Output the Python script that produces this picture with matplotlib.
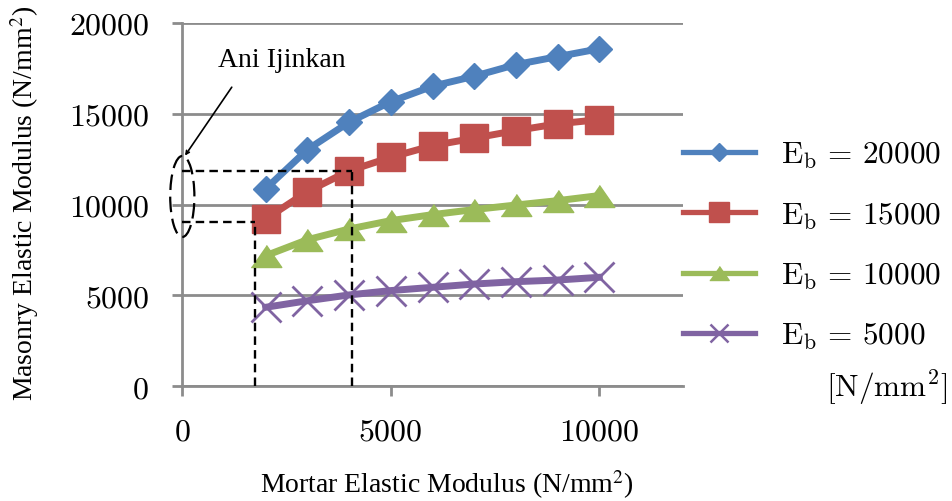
import matplotlib
matplotlib.use("Agg")
import matplotlib.pyplot as plt
from matplotlib.patches import Ellipse
from matplotlib.lines import Line2D
from matplotlib.font_manager import FontProperties

# ---- data ----
mortar_E = [2000, 3000, 4000, 5000, 6000, 7000, 8000, 9000, 10000]
eb_20000 = [10870, 13030, 14540, 15670, 16520, 17070, 17710, 18150, 18580]
eb_15000 = [9210, 10720, 11860, 12610, 13250, 13660, 14080, 14450, 14680]
eb_10000 = [7190, 8070, 8660, 9120, 9450, 9730, 9980, 10220, 10500]
eb_5000 = [4350, 4710, 5030, 5270, 5450, 5630, 5760, 5850, 6000]
series_labels = [r"$\mathrm{E}_\mathrm{b}\,=\,20000$", r"$\mathrm{E}_\mathrm{b}\,=\,15000$",
                 r"$\mathrm{E}_\mathrm{b}\,=\,10000$", r"$\mathrm{E}_\mathrm{b}\,=\,5000$"]
x_ticks = [0, 5000, 10000]
x_ticklabels = ["0", "5000", "10000"]
y_ticks = [0, 5000, 10000, 15000, 20000]
y_ticklabels = ["0", "5000", "10000", "15000", "20000"]
allow_x = [1745, 4066]          # mortar modulus range (dashed guides)
allow_y = [9065, 11840]         # masonry modulus range (dashed guides)

colors = ["#4F81BD", "#C0504D", "#9BBB59", "#8064A2"]
grid_gray = "#8C8C8C"

fig = plt.figure(figsize=(9.52, 5.02), dpi=100)
ax = fig.add_axes([182.3 / 952, 1 - 387.3 / 502, 500.4 / 952, 363.3 / 502])

tri = [(-1, -0.72), (1, -0.72), (0, 0.72)]
markers = ["D", "s", tri, "x"]
msizes = [13.5, 20, 22, 22]
lw = 5
series = [eb_20000, eb_15000, eb_10000, eb_5000]
for vals, c, m, ms in zip(series, colors, markers, msizes):
    ax.plot(mortar_E, vals, color=c, lw=lw, marker=m, ms=ms,
            mew=2 if m == "x" else 1, zorder=3)

ax.set_xlim(0, 12000)
ax.set_ylim(0, 20000)

# grid & spines
ax.yaxis.grid(True, color=grid_gray, lw=2)
ax.set_axisbelow(True)
for s in ["top", "right"]:
    ax.spines[s].set_visible(False)
for s in ["left", "bottom"]:
    ax.spines[s].set_color(grid_gray)
    ax.spines[s].set_linewidth(2)

tick_font = dict(family="cmr10", size=23)
ax.set_xticks(x_ticks)
ax.set_xticklabels(x_ticklabels, fontdict=tick_font)
ax.set_yticks(y_ticks)
ax.set_yticklabels(y_ticklabels, fontdict=tick_font)
ax.tick_params(axis="both", length=7, width=2, color=grid_gray, direction="out")
ax.tick_params(axis="y", pad=17)
ax.tick_params(axis="x", pad=16)

lab_kw = dict(family="Liberation Serif", size=20, math_fontfamily="stix")
ax.set_xlabel("Mortar Elastic Modulus (N/mm$^2$)", **lab_kw)
ax.xaxis.set_label_coords(0.529, -0.224)
ax.set_ylabel("Masonry Elastic Modulus (N/mm$^2$)", **lab_kw)
ax.yaxis.set_label_coords(-0.283, 0.505)

# dashed guide lines
dkw = dict(color="black", lw=1.7, dashes=(3.6, 2.2), zorder=4, clip_on=False)
ax.plot([allow_x[0], allow_x[0]], [0, allow_y[0]], **dkw)
ax.plot([allow_x[1], allow_x[1]], [0, allow_y[1]], **dkw)
ax.plot([0, allow_x[0]], [allow_y[0], allow_y[0]], **dkw)
ax.plot([0, allow_x[1]], [allow_y[1], allow_y[1]], **dkw)

ell = Ellipse((0, 10450), width=580, height=4460, fill=False, ec="black",
              lw=1.6, ls=(0, (7, 3)), clip_on=False, zorder=4)
ax.add_patch(ell)

ax.annotate("", xy=(65, 12700), xytext=(1186, 16466),
            arrowprops=dict(arrowstyle="->", lw=1.2, color="black",
                            shrinkA=0, shrinkB=0, mutation_scale=6))
ax.text(857, 17640, "Ani Ijinkan", family="Liberation Serif", size=20,
        ha="left", va="baseline")

# legend (proxy handles: thinner lines, smaller markers as in the reference)
leg_ms = [8.7, 14, 14, 13]
handles = [Line2D([], [], color=c, lw=3.8, marker=m, ms=ms,
                  mew=1.8 if m == "x" else 1)
           for c, m, ms in zip(colors, markers, leg_ms)]
leg_prop = FontProperties(family="cmr10", size=22.5, math_fontfamily="cm")
fig.legend(handles, series_labels, loc="upper left",
           bbox_to_anchor=(683 / 952, 1 - 141 / 502), prop=leg_prop,
           frameon=False, handlelength=2.3, handletextpad=0.85,
           labelspacing=0.96, borderpad=0, borderaxespad=0)
fig.text(947 / 952, 1 - 387 / 502, r"$[\mathrm{N/mm^2}]$", ha="right", va="center",
         fontproperties=leg_prop)

fig.savefig("out.png", dpi=100)
